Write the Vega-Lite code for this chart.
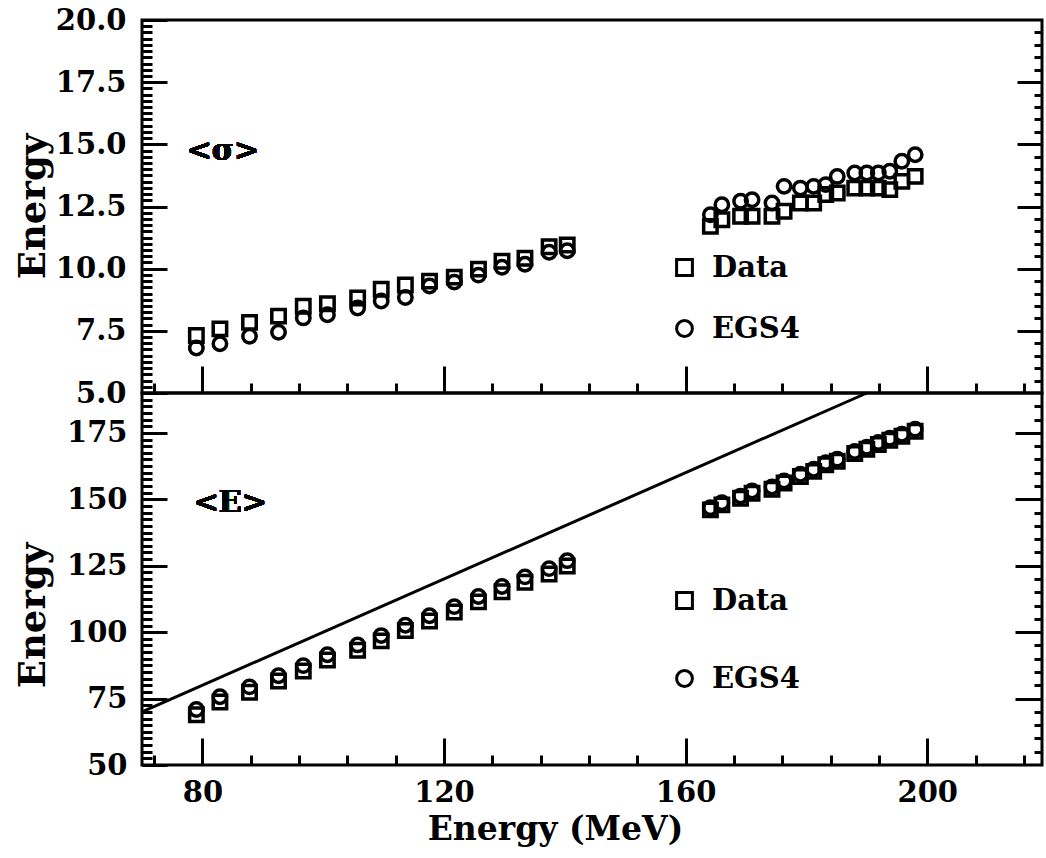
{
  "$schema": "https://vega.github.io/schema/vega-lite/v6.json",
  "background": "white",
  "padding": {"left": 12, "top": 4, "right": 0, "bottom": 0},
  "datasets": {
    "sigma": [
      {"energy": 79.0, "series": "Data", "value": 7.31}, {"energy": 79.0, "series": "EGS4", "value": 6.81},
      {"energy": 82.9, "series": "Data", "value": 7.58}, {"energy": 82.9, "series": "EGS4", "value": 6.98},
      {"energy": 87.8, "series": "Data", "value": 7.84}, {"energy": 87.8, "series": "EGS4", "value": 7.28},
      {"energy": 92.6, "series": "Data", "value": 8.09}, {"energy": 92.6, "series": "EGS4", "value": 7.44},
      {"energy": 96.7, "series": "Data", "value": 8.49}, {"energy": 96.7, "series": "EGS4", "value": 8.02},
      {"energy": 100.7, "series": "Data", "value": 8.59}, {"energy": 100.7, "series": "EGS4", "value": 8.15},
      {"energy": 105.7, "series": "Data", "value": 8.82}, {"energy": 105.7, "series": "EGS4", "value": 8.42},
      {"energy": 109.6, "series": "Data", "value": 9.17}, {"energy": 109.6, "series": "EGS4", "value": 8.70},
      {"energy": 113.6, "series": "Data", "value": 9.34}, {"energy": 113.6, "series": "EGS4", "value": 8.84},
      {"energy": 117.6, "series": "Data", "value": 9.50}, {"energy": 117.6, "series": "EGS4", "value": 9.30},
      {"energy": 121.7, "series": "Data", "value": 9.66}, {"energy": 121.7, "series": "EGS4", "value": 9.46},
      {"energy": 125.7, "series": "Data", "value": 9.98}, {"energy": 125.7, "series": "EGS4", "value": 9.74},
      {"energy": 129.6, "series": "Data", "value": 10.30}, {"energy": 129.6, "series": "EGS4", "value": 10.06},
      {"energy": 133.4, "series": "Data", "value": 10.42}, {"energy": 133.4, "series": "EGS4", "value": 10.18},
      {"energy": 137.4, "series": "Data", "value": 10.88}, {"energy": 137.4, "series": "EGS4", "value": 10.66},
      {"energy": 140.4, "series": "Data", "value": 10.95}, {"energy": 140.4, "series": "EGS4", "value": 10.72},
      {"energy": 164.1, "series": "Data", "value": 11.70}, {"energy": 164.1, "series": "EGS4", "value": 12.17},
      {"energy": 166.0, "series": "Data", "value": 11.97}, {"energy": 166.0, "series": "EGS4", "value": 12.57},
      {"energy": 169.1, "series": "Data", "value": 12.11}, {"energy": 169.1, "series": "EGS4", "value": 12.71},
      {"energy": 171.0, "series": "Data", "value": 12.11}, {"energy": 171.0, "series": "EGS4", "value": 12.77},
      {"energy": 174.3, "series": "Data", "value": 12.11}, {"energy": 174.3, "series": "EGS4", "value": 12.64},
      {"energy": 176.3, "series": "Data", "value": 12.31}, {"energy": 176.3, "series": "EGS4", "value": 13.31},
      {"energy": 179.0, "series": "Data", "value": 12.64}, {"energy": 179.0, "series": "EGS4", "value": 13.24},
      {"energy": 181.2, "series": "Data", "value": 12.64}, {"energy": 181.2, "series": "EGS4", "value": 13.31},
      {"energy": 183.2, "series": "Data", "value": 12.98}, {"energy": 183.2, "series": "EGS4", "value": 13.38},
      {"energy": 185.1, "series": "Data", "value": 13.04}, {"energy": 185.1, "series": "EGS4", "value": 13.71},
      {"energy": 188.0, "series": "Data", "value": 13.24}, {"energy": 188.0, "series": "EGS4", "value": 13.85},
      {"energy": 190.0, "series": "Data", "value": 13.24}, {"energy": 190.0, "series": "EGS4", "value": 13.85},
      {"energy": 191.9, "series": "Data", "value": 13.24}, {"energy": 191.9, "series": "EGS4", "value": 13.85},
      {"energy": 193.8, "series": "Data", "value": 13.18}, {"energy": 193.8, "series": "EGS4", "value": 13.92},
      {"energy": 195.8, "series": "Data", "value": 13.51}, {"energy": 195.8, "series": "EGS4", "value": 14.32},
      {"energy": 198.0, "series": "Data", "value": 13.71}, {"energy": 198.0, "series": "EGS4", "value": 14.58}
    ],
    "mean": [
      {"energy": 79.0, "series": "Data", "value": 68.9}, {"energy": 79.0, "series": "EGS4", "value": 70.9},
      {"energy": 82.9, "series": "Data", "value": 73.7}, {"energy": 82.9, "series": "EGS4", "value": 75.7},
      {"energy": 87.8, "series": "Data", "value": 77.4}, {"energy": 87.8, "series": "EGS4", "value": 79.4},
      {"energy": 92.6, "series": "Data", "value": 81.6}, {"energy": 92.6, "series": "EGS4", "value": 83.6},
      {"energy": 96.7, "series": "Data", "value": 85.4}, {"energy": 96.7, "series": "EGS4", "value": 87.4},
      {"energy": 100.7, "series": "Data", "value": 89.5}, {"energy": 100.7, "series": "EGS4", "value": 91.5},
      {"energy": 105.7, "series": "Data", "value": 93.2}, {"energy": 105.7, "series": "EGS4", "value": 95.2},
      {"energy": 109.6, "series": "Data", "value": 96.7}, {"energy": 109.6, "series": "EGS4", "value": 98.7},
      {"energy": 113.6, "series": "Data", "value": 100.6}, {"energy": 113.6, "series": "EGS4", "value": 102.6},
      {"energy": 117.6, "series": "Data", "value": 104.2}, {"energy": 117.6, "series": "EGS4", "value": 106.2},
      {"energy": 121.7, "series": "Data", "value": 107.6}, {"energy": 121.7, "series": "EGS4", "value": 109.6},
      {"energy": 125.7, "series": "Data", "value": 111.4}, {"energy": 125.7, "series": "EGS4", "value": 113.4},
      {"energy": 129.6, "series": "Data", "value": 115.2}, {"energy": 129.6, "series": "EGS4", "value": 117.2},
      {"energy": 133.4, "series": "Data", "value": 118.8}, {"energy": 133.4, "series": "EGS4", "value": 120.8},
      {"energy": 137.4, "series": "Data", "value": 121.9}, {"energy": 137.4, "series": "EGS4", "value": 123.9},
      {"energy": 140.4, "series": "Data", "value": 124.9}, {"energy": 140.4, "series": "EGS4", "value": 126.9},
      {"energy": 164.1, "series": "Data", "value": 146.0}, {"energy": 164.1, "series": "EGS4", "value": 146.8},
      {"energy": 166.0, "series": "Data", "value": 147.9}, {"energy": 166.0, "series": "EGS4", "value": 148.7},
      {"energy": 169.1, "series": "Data", "value": 150.4}, {"energy": 169.1, "series": "EGS4", "value": 151.2},
      {"energy": 171.0, "series": "Data", "value": 152.3}, {"energy": 171.0, "series": "EGS4", "value": 153.1},
      {"energy": 174.3, "series": "Data", "value": 153.8}, {"energy": 174.3, "series": "EGS4", "value": 154.6},
      {"energy": 176.3, "series": "Data", "value": 156.1}, {"energy": 176.3, "series": "EGS4", "value": 156.9},
      {"energy": 179.0, "series": "Data", "value": 158.6}, {"energy": 179.0, "series": "EGS4", "value": 159.4},
      {"energy": 181.2, "series": "Data", "value": 160.5}, {"energy": 181.2, "series": "EGS4", "value": 161.3},
      {"energy": 183.2, "series": "Data", "value": 163.0}, {"energy": 183.2, "series": "EGS4", "value": 163.8},
      {"energy": 185.1, "series": "Data", "value": 164.3}, {"energy": 185.1, "series": "EGS4", "value": 165.1},
      {"energy": 188.0, "series": "Data", "value": 167.2}, {"energy": 188.0, "series": "EGS4", "value": 168.0},
      {"energy": 190.0, "series": "Data", "value": 168.8}, {"energy": 190.0, "series": "EGS4", "value": 169.6},
      {"energy": 191.9, "series": "Data", "value": 170.6}, {"energy": 191.9, "series": "EGS4", "value": 171.4},
      {"energy": 193.8, "series": "Data", "value": 172.2}, {"energy": 193.8, "series": "EGS4", "value": 173.0},
      {"energy": 195.8, "series": "Data", "value": 173.7}, {"energy": 195.8, "series": "EGS4", "value": 174.5},
      {"energy": 198.0, "series": "Data", "value": 175.6}, {"energy": 198.0, "series": "EGS4", "value": 176.4}
    ],
    "diagonal": [
      {"energy": 70, "value": 70},
      {"energy": 190, "value": 190}
    ]
  },
  "config": {
    "view": {"stroke": "black", "strokeWidth": 3},
    "axis": {
      "domain": false,
      "grid": false,
      "tickColor": "black",
      "tickWidth": 3,
      "tickCap": "butt",
      "labelColor": "black",
      "titleColor": "black",
      "labelFont": "DejaVu Serif",
      "labelFontWeight": "bold",
      "titleFont": "DejaVu Serif",
      "titleFontWeight": "bold",
      "labelOverlap": false,
      "labelFlush": false,
      "minExtent": 0,
      "maxExtent": 0
    },
    "legend": {
      "orient": "none",
      "title": null,
      "padding": 0,
      "symbolSize": 250,
      "symbolStrokeWidth": 3,
      "symbolStrokeColor": "black",
      "symbolFillColor": "transparent",
      "symbolOpacity": 1,
      "labelFont": "DejaVu Serif",
      "labelFontWeight": "bold",
      "labelFontSize": 29,
      "labelColor": "black",
      "labelOffset": 13,
      "labelLimit": 400
    }
  },
  "spacing": 0,
  "bounds": "flush",
  "resolve": {"scale": {"shape": "independent"}, "legend": {"shape": "independent"}},
  "vconcat": [
    {
      "width": 900,
      "height": 373,
      "data": {"name": "sigma"},
      "resolve": {"axis": {"x": "independent", "y": "independent"}},
      "layer": [
        {
          "mark": {"type": "point", "filled": false, "stroke": "black", "strokeWidth": 3.5, "size": 180, "opacity": 1},
          "encoding": {
            "x": {"field": "energy", "type": "quantitative",
              "scale": {"domain": [70, 219], "nice": false, "zero": false},
              "axis": {"orient": "bottom", "values": [80, 120, 160, 200], "labels": false, "tickSize": -27, "title": null}},
            "y": {"field": "value", "type": "quantitative",
              "scale": {"domain": [5, 20], "nice": false, "zero": false},
              "axis": {"orient": "left", "values": [5, 7.5, 10, 12.5, 15, 17.5, 20], "format": ".1f",
                "ticks": false, "tickSize": 0, "labelFontSize": 29, "labelPadding": 16,
                "minExtent": 86, "maxExtent": 86,
                "title": "Energy", "titleFontSize": 37, "titleAngle": -90, "titleAlign": "center",
                "titleBaseline": "alphabetic", "titleX": -98, "titleY": 186}},
            "shape": {"field": "series", "type": "nominal",
              "scale": {"domain": ["Data", "EGS4"], "range": ["square", "circle"]},
              "legend": {"legendX": 528, "legendY": 233, "rowPadding": 31}}
          }
        },
        {
          "mark": {"type": "point", "opacity": 0},
          "encoding": {
            "x": {"field": "energy", "type": "quantitative",
              "axis": {"orient": "bottom", "values": [72, 88, 96, 104, 112, 128, 136, 144, 152, 168, 176, 184, 192, 208, 216], "labels": false, "tickSize": -10, "title": null}},
            "y": {"field": "value", "type": "quantitative",
              "axis": {"orient": "left", "values": [5, 7.5, 10, 12.5, 15, 17.5, 20], "labels": false, "tickSize": -25, "title": null}}
          }
        },
        {
          "mark": {"type": "point", "opacity": 0},
          "encoding": {
            "x": {"field": "energy", "type": "quantitative", "axis": null},
            "y": {"field": "value", "type": "quantitative",
              "axis": {"orient": "left", "labels": false, "tickSize": -10, "title": null,
                "values": [5.25, 5.5, 5.75, 6, 6.25, 6.5, 6.75, 7, 7.25, 7.75, 8, 8.25, 8.5, 8.75, 9, 9.25, 9.5, 9.75, 10.25, 10.5, 10.75, 11, 11.25, 11.5, 11.75, 12, 12.25, 12.75, 13, 13.25, 13.5, 13.75, 14, 14.25, 14.5, 14.75, 15.25, 15.5, 15.75, 16, 16.25, 16.5, 16.75, 17, 17.25, 17.75, 18, 18.25, 18.5, 18.75, 19, 19.25, 19.5, 19.75]}}
          }
        },
        {
          "mark": {"type": "point", "opacity": 0},
          "encoding": {
            "x": {"field": "energy", "type": "quantitative", "axis": null},
            "y": {"field": "value", "type": "quantitative",
              "axis": {"orient": "right", "values": [7.5, 10, 12.5, 15, 17.5], "labels": false, "tickSize": -25, "title": null}}
          }
        },
        {
          "mark": {"type": "point", "opacity": 0},
          "encoding": {
            "x": {"field": "energy", "type": "quantitative", "axis": null},
            "y": {"field": "value", "type": "quantitative",
              "axis": {"orient": "right", "labels": false, "tickSize": -8, "title": null,
                "values": [5.5, 6, 6.5, 7, 8, 8.5, 9, 9.5, 10.5, 11, 11.5, 12, 13, 13.5, 14, 14.5, 15.5, 16, 16.5, 17, 18, 18.5, 19, 19.5]}}
          }
        },
        {
          "mark": {"type": "text", "text": "<σ>", "font": "DejaVu Serif", "fontWeight": "bold", "fontSize": 30, "fill": "black", "align": "center", "baseline": "middle"},
          "encoding": {
            "x": {"datum": 83.4, "type": "quantitative", "axis": null},
            "y": {"datum": 14.73, "type": "quantitative", "axis": null}
          }
        }
      ]
    },
    {
      "width": 900,
      "height": 372,
      "data": {"name": "mean"},
      "resolve": {"axis": {"x": "independent", "y": "independent"}},
      "layer": [
        {
          "data": {"name": "diagonal"},
          "mark": {"type": "line", "color": "black", "strokeWidth": 3},
          "encoding": {
            "x": {"field": "energy", "type": "quantitative",
              "scale": {"domain": [70, 219], "nice": false, "zero": false}, "axis": null},
            "y": {"field": "value", "type": "quantitative",
              "scale": {"domain": [50, 190], "nice": false, "zero": false}, "axis": null}
          }
        },
        {
          "mark": {"type": "point", "filled": false, "stroke": "black", "strokeWidth": 3.5, "size": 180, "opacity": 1},
          "encoding": {
            "x": {"field": "energy", "type": "quantitative",
              "axis": {"orient": "bottom", "values": [80, 120, 160, 200], "format": "d",
                "ticks": false, "tickSize": 0, "labelFontSize": 29, "labelPadding": 13,
                "minExtent": 50, "maxExtent": 50,
                "title": "Energy (MeV)", "titleFontSize": 33, "titleAlign": "center",
                "titleBaseline": "alphabetic", "titleX": 413, "titleY": 74}},
            "y": {"field": "value", "type": "quantitative",
              "axis": {"orient": "left", "values": [50, 75, 100, 125, 150, 175], "format": "d",
                "ticks": false, "tickSize": 0, "labelFontSize": 29, "labelPadding": 15,
                "minExtent": 86, "maxExtent": 86,
                "title": "Energy", "titleFontSize": 37, "titleAngle": -90, "titleAlign": "center",
                "titleBaseline": "alphabetic", "titleX": -98, "titleY": 222}},
            "shape": {"field": "series", "type": "nominal",
              "scale": {"domain": ["Data", "EGS4"], "range": ["square", "circle"]},
              "legend": {"legendX": 528, "legendY": 193, "rowPadding": 48}}
          }
        },
        {
          "mark": {"type": "point", "opacity": 0},
          "encoding": {
            "x": {"field": "energy", "type": "quantitative",
              "axis": {"orient": "bottom", "values": [80, 120, 160, 200], "labels": false, "tickSize": -27, "title": null}},
            "y": {"field": "value", "type": "quantitative",
              "axis": {"orient": "left", "values": [50, 75, 100, 125, 150, 175], "labels": false, "tickSize": -25, "title": null}}
          }
        },
        {
          "mark": {"type": "point", "opacity": 0},
          "encoding": {
            "x": {"field": "energy", "type": "quantitative",
              "axis": {"orient": "bottom", "values": [72, 88, 96, 104, 112, 128, 136, 144, 152, 168, 176, 184, 192, 208, 216], "labels": false, "tickSize": -10, "title": null}},
            "y": {"field": "value", "type": "quantitative",
              "axis": {"orient": "left", "labels": false, "tickSize": -10, "title": null,
                "values": [52.5, 55, 57.5, 60, 62.5, 65, 67.5, 70, 72.5, 77.5, 80, 82.5, 85, 87.5, 90, 92.5, 95, 97.5, 102.5, 105, 107.5, 110, 112.5, 115, 117.5, 120, 122.5, 127.5, 130, 132.5, 135, 137.5, 140, 142.5, 145, 147.5, 152.5, 155, 157.5, 160, 162.5, 165, 167.5, 170, 172.5, 177.5, 180, 182.5, 185, 187.5]}}
          }
        },
        {
          "mark": {"type": "point", "opacity": 0},
          "encoding": {
            "x": {"field": "energy", "type": "quantitative", "axis": null},
            "y": {"field": "value", "type": "quantitative",
              "axis": {"orient": "right", "values": [75, 100, 125, 150, 175], "labels": false, "tickSize": -27, "title": null}}
          }
        },
        {
          "mark": {"type": "point", "opacity": 0},
          "encoding": {
            "x": {"field": "energy", "type": "quantitative", "axis": null},
            "y": {"field": "value", "type": "quantitative",
              "axis": {"orient": "right", "labels": false, "tickSize": -8, "title": null,
                "values": [55, 60, 65, 70, 80, 85, 90, 95, 105, 110, 115, 120, 130, 135, 140, 145, 155, 160, 165, 170, 180, 185]}}
          }
        },
        {
          "mark": {"type": "text", "text": "<E>", "font": "DejaVu Serif", "fontWeight": "bold", "fontSize": 30, "fill": "black", "align": "center", "baseline": "middle"},
          "encoding": {
            "x": {"datum": 84.6, "type": "quantitative", "axis": null},
            "y": {"datum": 148.6, "type": "quantitative", "axis": null}
          }
        }
      ]
    }
  ]
}
